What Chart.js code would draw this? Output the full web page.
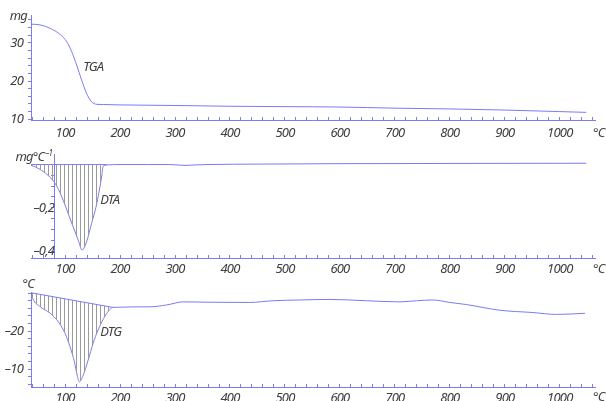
<!DOCTYPE html>
<html>
<head>
<meta charset="utf-8">
<script src="https://cdn.jsdelivr.net/npm/chart.js@4.4.0/dist/chart.umd.min.js"></script>
<style>
  html, body { margin: 0; padding: 0; background: #fff; }
  #wrap { position: relative; width: 606px; height: 401px; overflow: hidden; }
  canvas { position: absolute; left: 0; }
</style>
</head>
<body>
<div id="wrap">
  <canvas id="tga" width="606" height="142" style="top:0"></canvas>
  <canvas id="dta" width="606" height="133" style="top:142px"></canvas>
  <canvas id="dtg" width="606" height="126" style="top:275px"></canvas>
</div>
<script>
// Thermal analysis run: mass loss (TGA), differential signal (DTA) and derivative (DTG)
const tgaTemp = [38, 55, 73, 91, 103, 112, 121, 130, 139, 148, 153, 158, 170, 200, 300, 400, 500, 600, 700, 800, 900, 1000, 1048];
const tgaMass = [34.9, 34.7, 33.8, 32.2, 30.3, 27.7, 24.2, 20.3, 16.8, 14.6, 14.1, 13.9, 13.85, 13.75, 13.6, 13.4, 13.3, 13.2, 12.9, 12.7, 12.4, 12.0, 11.8];

const dtaTemp = [38, 41, 60, 79, 88, 97, 106, 115, 124, 131, 140, 148, 156, 162, 167, 169, 176, 200, 250, 290, 310, 320, 335, 360, 450, 600, 800, 1048];
const dtaValue = [-0.004, -0.006, -0.032, -0.077, -0.115, -0.168, -0.229, -0.29, -0.35, -0.395, -0.35, -0.274, -0.199, -0.123, -0.047, -0.009, -0.002, 0.0, 0.0, 0.0, -0.003, -0.004, -0.002, 0.0, 0.002, 0.004, 0.005, 0.006];

const dtgTemp = [38, 41, 55, 73, 88, 100, 109, 117, 122, 126, 133, 142, 151, 160, 170, 179, 187, 254, 285, 315, 364, 436, 478, 527, 582, 648, 709, 739, 769, 800, 830, 891, 951, 994, 1046];
const dtgValue = [-30.1, -28.6, -26.4, -24.7, -22.4, -19.4, -15.9, -11.9, -8.4, -6.7, -8.4, -12.4, -16.8, -20.3, -23.3, -25.3, -26.25, -26.4, -26.9, -27.7, -27.6, -27.55, -28.0, -28.2, -28.35, -28.0, -27.7, -28.0, -28.2, -27.55, -27.0, -25.5, -24.9, -24.4, -24.7];

// peak end temperatures used for the hatched areas
const dtaPeakEnd = 176;
const dtgPeakEnd = 187;

const xTickLabels = [100, 200, 300, 400, 500, 600, 700, 800, 900, 1000];
const tgaTickLabels = [10, 20, 30];
const dtaTickLabels = [-0.2, -0.4];
const dtgTickLabels = [-20, -10];

const T_MIN = 38, T_MAX = 1064;
const BLUE = '#7b7bf3';
const TEXT = '#404040';
const FAMILY = '"Noto Sans", "DejaVu Sans", sans-serif';
const FONT = { family: FAMILY, size: 13, style: 'italic' };
const fontCss = (px) => 'italic ' + px + 'px ' + FAMILY;
const DASH = '\u2013';

const toPoints = (xs, ys) => xs.map((x, i) => ({ x, y: ys[i] }));
const fmtMinus = (s) => s.replace('-', DASH);

// vertical hatching used under the peaks
function hatch() {
  const c = document.createElement('canvas');
  c.width = 4; c.height = 4;
  const g = c.getContext('2d');
  g.fillStyle = '#9a9a9a';
  g.fillRect(0, 0, 1, 4);
  return g.createPattern(c, 'repeat');
}

function xAxis(height, pad) {
  return {
    type: 'linear', min: T_MIN, max: T_MAX,
    border: { display: true, color: BLUE, width: 1 },
    grid: { drawOnChartArea: false, drawTicks: true, tickLength: -3, color: BLUE },
    ticks: {
      stepSize: 20, autoSkip: false, maxRotation: 0, includeBounds: false,
      padding: pad, color: TEXT, font: FONT,
      callback: (v) => xTickLabels.includes(v) ? String(v) : ''
    },
    afterFit: (s) => { s.height = height; }
  };
}

function lineSet(data, extra) {
  return Object.assign({
    data, borderColor: BLUE, borderWidth: 1, pointRadius: 0,
    cubicInterpolationMode: 'monotone', fill: false
  }, extra || {});
}

// tighter lettering for all text on the canvas
const tightText = {
  id: 'tightText',
  beforeDraw(chart) { chart.ctx.letterSpacing = '-0.8px'; }
};

// text annotations: curve names and units
function textPlugin(items) {
  return {
    id: 'texts',
    afterDraw(chart) {
      const ctx = chart.ctx;
      const xs = chart.scales.x, ys = chart.scales.y, area = chart.chartArea;
      ctx.save();
      ctx.fillStyle = TEXT;
      ctx.font = fontCss(13);
      ctx.textBaseline = 'middle';
      items(ctx, xs, ys, area);
      ctx.restore();
    }
  };
}

function unitX(ctx, area, dy) {
  ctx.textAlign = 'left';
  ctx.fillText('\u00B0C', area.right - 2, area.bottom + dy);
}

const common = {
  responsive: false, animation: false, devicePixelRatio: 1,
  plugins: { legend: { display: false }, tooltip: { enabled: false } },
  events: []
};

// ---- TGA ----
new Chart(document.getElementById('tga'), {
  type: 'line',
  data: { datasets: [lineSet(toPoints(tgaTemp, tgaMass))] },
  options: Object.assign({}, common, {
    layout: { padding: { top: 15, right: 11, left: 0, bottom: 0 } },
    scales: {
      x: xAxis(22, 8),
      y: {
        type: 'linear', min: 9.8, max: 37.3,
        border: { display: true, color: BLUE },
        grid: { drawOnChartArea: false, tickLength: 3, color: BLUE },
        ticks: {
          stepSize: 2, includeBounds: false, autoSkip: false, padding: 5, color: TEXT, font: FONT,
          callback: (v) => tgaTickLabels.includes(v) ? String(v) : ''
        },
        afterFit: (s) => { s.width = 31; }
      }
    }
  }),
  plugins: [tightText, textPlugin((ctx, xs, ys, area) => {
    ctx.textAlign = 'left';
    ctx.fillText('TGA', xs.getPixelForValue(133), ys.getPixelForValue(23.5));
    ctx.textAlign = 'right';
    ctx.fillText('mg', area.left - 4, area.top + 1);
    unitX(ctx, area, 13);
  })]
});

// ---- DTA ----
const dtaPoints = toPoints(dtaTemp, dtaValue);
new Chart(document.getElementById('dta'), {
  type: 'line',
  data: {
    datasets: [
      lineSet(dtaPoints.filter(p => p.x <= dtaPeakEnd), { borderWidth: 0, fill: 'origin', backgroundColor: hatch() }),
      lineSet([{ x: dtaTemp[0], y: 0 }, { x: dtaPeakEnd, y: 0 }], { cubicInterpolationMode: 'default' }),
      lineSet(dtaPoints)
    ]
  },
  options: Object.assign({}, common, {
    layout: { padding: { top: 11, right: 11, left: 31, bottom: 0 } },
    scales: {
      x: xAxis(17, 6),
      y: {
        type: 'linear', min: -0.432, max: 0.045,
        position: { x: 80 },
        border: { display: true, color: BLUE },
        grid: { drawOnChartArea: false, tickLength: 3, color: BLUE },
        ticks: {
          stepSize: 0.05, includeBounds: false, autoSkip: false, padding: 5, color: TEXT, font: FONT,
          callback: (v) => dtaTickLabels.some(t => Math.abs(t - v) < 1e-6) ? fmtMinus(v.toFixed(1).replace('.', ',')) : ''
        }
      }
    }
  }),
  plugins: [tightText, textPlugin((ctx, xs, ys, area) => {
    ctx.textAlign = 'left';
    ctx.fillText('DTA', xs.getPixelForValue(164), ys.getPixelForValue(-0.164));
    const ax = xs.getPixelForValue(80);
    ctx.textAlign = 'right';
    ctx.font = fontCss(8);
    ctx.fillText(DASH + '1', ax - 2, area.top - 1);
    const w = ctx.measureText(DASH + '1').width;
    ctx.font = fontCss(13);
    ctx.fillText('mg\u00B0C', ax - 3 - w, area.top + 2);
    unitX(ctx, area, 11);
  })]
});

// ---- DTG ----
const dtgPoints = toPoints(dtgTemp, dtgValue);
const dtgPeakEndValue = dtgValue[dtgTemp.indexOf(dtgPeakEnd)];
new Chart(document.getElementById('dtg'), {
  type: 'line',
  data: {
    datasets: [
      lineSet([{ x: dtgTemp[0], y: dtgValue[0] }, { x: dtgPeakEnd, y: dtgPeakEndValue }], { cubicInterpolationMode: 'default' }),
      lineSet(dtgPoints.filter(p => p.x <= dtgPeakEnd), { borderWidth: 0, fill: '-1', backgroundColor: hatch() }),
      lineSet(dtgPoints)
    ]
  },
  options: Object.assign({}, common, {
    layout: { padding: { top: 17, right: 11, left: 0, bottom: 0 } },
    scales: {
      x: xAxis(14, 6),
      y: {
        type: 'linear', min: -30.3, max: -5.3, reverse: true,
        border: { display: true, color: BLUE },
        grid: { drawOnChartArea: false, tickLength: 3, color: BLUE },
        ticks: {
          stepSize: 2, includeBounds: false, autoSkip: false, padding: 5, color: TEXT, font: FONT,
          callback: (v) => dtgTickLabels.includes(v) ? fmtMinus(String(v)) : ''
        },
        afterFit: (s) => { s.width = 31; }
      }
    }
  }),
  plugins: [tightText, textPlugin((ctx, xs, ys, area) => {
    ctx.textAlign = 'left';
    ctx.fillText('DTG', xs.getPixelForValue(164), ys.getPixelForValue(-19.6));
    ctx.textAlign = 'right';
    ctx.fillText('\u00B0C', area.left + 3, area.top - 8);
    unitX(ctx, area, 10);
  })]
});
</script>
</body>
</html>
